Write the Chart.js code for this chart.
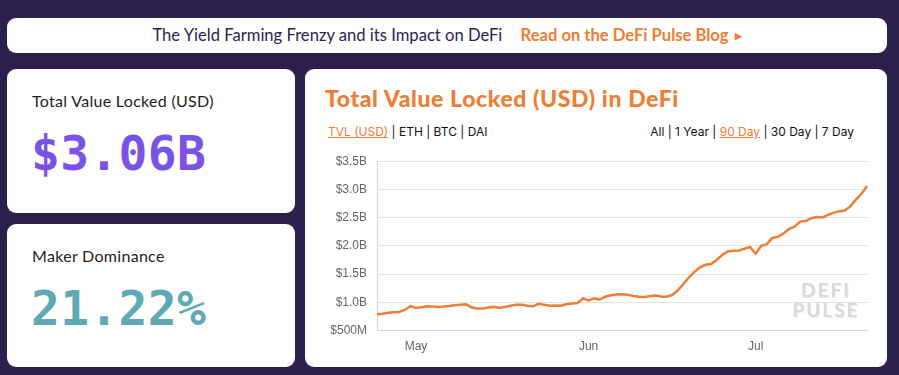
<!DOCTYPE html>
<html>
<head>
<meta charset="utf-8">
<script src="https://cdn.jsdelivr.net/npm/chart.js@4/dist/chart.umd.min.js"></script>
<style>
  html, body { margin: 0; padding: 0; }
  body { width: 899px; height: 375px; background: #2b1f4e; position: relative; overflow: hidden; font-family: "Lato", sans-serif; }
  .box { position: absolute; background: #fff; border-radius: 9px; }
  #banner { left: 7px; top: 18px; width: 880px; height: 35px; text-align: center; line-height: 35px; font-size: 16.6px; color: #2b2350; }
  #banner a { color: #ef7d33; font-weight: bold; margin-left: 14px; text-decoration: none; }
  #banner .arr { font-size: 9px; vertical-align: 2px; margin-left: 6px; }
  #card1 { left: 7px; top: 69px; width: 288px; height: 144px; }
  #card2 { left: 7px; top: 224px; width: 288px; height: 143px; }
  #card3 { left: 305px; top: 69px; width: 582px; height: 298px; }
  .label { position: absolute; left: 25px; top: 22px; font-size: 16px; letter-spacing: 0.3px; color: #1d1d1d; }
  .big { position: absolute; left: 24px; top: 56px; font-family: "DejaVu Sans Mono", monospace; font-weight: bold; font-size: 48px; letter-spacing: 0.3px; }
  #title { position: absolute; left: 20px; top: 15px; font-size: 23px; letter-spacing: 0.6px; font-weight: 900; color: #ef7d33; }
  .links { position: absolute; top: 55px; font-family: "Inter", sans-serif; font-size: 12px; color: #111; }
  .links .on { color: #ef7d33; text-decoration: underline; }
  #chartBox { position: absolute; left: 310px; top: 144px; width: 560px; height: 212px; }
  #mark { position: absolute; left: 788px; top: 280px; width: 76px; text-align: center; font-family: "Lato", sans-serif; font-weight: bold; font-size: 19px; line-height: 20px; letter-spacing: 2px; color: #d9d8de; text-shadow: 1px 1px 0 #ececef; }
</style>
</head>
<body>
<div class="box" id="banner">The Yield Farming Frenzy and its Impact on DeFi <a>Read on the DeFi Pulse Blog<span class="arr">&#9654;</span></a></div>

<div class="box" id="card1">
  <div class="label">Total Value Locked (USD)</div>
  <div class="big" style="color:#7b52e6">$3.06B</div>
</div>
<div class="box" id="card2">
  <div class="label">Maker Dominance</div>
  <div class="big" style="color:#5fa9b5">21.22%</div>
</div>

<div class="box" id="card3">
  <div id="title">Total Value Locked (USD) in DeFi</div>
  <div class="links" style="left:23px"><span class="on">TVL (USD)</span> | ETH | BTC | DAI</div>
  <div class="links" style="right:33px">All | 1 Year | <span class="on">90 Day</span> | 30 Day | 7 Day</div>
</div>

<div id="chartBox"><canvas id="tvl"></canvas></div>
<div id="mark">DEFI<br>PULSE</div>

<script>
// 90 day window, one point per day, 24 Apr .. 21 Jul
var startDay = new Date(2020, 3, 24);
var monthNames = ['Jan', 'Feb', 'Mar', 'Apr', 'May', 'Jun', 'Jul', 'Aug', 'Sep', 'Oct', 'Nov', 'Dec'];

// TVL in billions USD
var tvlValues = [
    0.79, 0.80, 0.815, 0.825, 0.83, 0.865, 0.935, 0.90, 0.915, 0.93,
    0.925, 0.92, 0.925, 0.935, 0.95, 0.96, 0.965, 0.91, 0.89, 0.89,
    0.91, 0.92, 0.90, 0.92, 0.94, 0.96, 0.96, 0.94, 0.93, 0.975,
    0.96, 0.94, 0.945, 0.94, 0.965, 0.98, 0.99, 1.07, 1.035, 1.07,
    1.05, 1.10, 1.125, 1.14, 1.145, 1.135, 1.115, 1.10, 1.095, 1.11,
    1.12, 1.105, 1.10, 1.13, 1.21, 1.32, 1.44, 1.54, 1.62, 1.665,
    1.68, 1.75, 1.84, 1.90, 1.915, 1.92, 1.95, 1.98, 1.86, 2.00,
    2.03, 2.14, 2.16, 2.22, 2.30, 2.34, 2.43, 2.44, 2.49, 2.51,
    2.505, 2.55, 2.59, 2.615, 2.625, 2.70, 2.82, 2.92, 3.06
];

var yTicks = [0.5, 1.0, 1.5, 2.0, 2.5, 3.0, 3.5];

var dayLabels = [];
var monthStart = [];
for (var i = 0; i < tvlValues.length; i++) {
    var d = new Date(startDay.getTime());
    d.setDate(d.getDate() + i);
    dayLabels.push(monthNames[d.getMonth()] + ' ' + d.getDate());
    monthStart.push(d.getDate() === 1);
}

function yLabel(v) {
    "use strict";
    if (v < 1) {
        return '$' + Math.round(v * 1000) + 'M';
    }
    return '$' + v.toFixed(1) + 'B';
}

var gridColor = '#e3e3e3';

new Chart(document.getElementById('tvl').getContext('2d'), {
    type: 'line',
    data: {
        labels: dayLabels,
        datasets: [{
            data: tvlValues,
            borderColor: '#ef7d33',
            borderWidth: 2.5,
            pointRadius: 0,
            tension: 0,
            fill: false
        }]
    },
    options: {
        responsive: true,
        maintainAspectRatio: false,
        animation: false,
        layout: { padding: { top: 4, right: 3 } },
        plugins: { legend: { display: false }, tooltip: { enabled: false } },
        scales: {
            x: {
                grid: {
                    color: function (ctx) { return monthStart[ctx.index] ? gridColor : 'rgba(0,0,0,0)'; },
                    tickLength: 7,
                    drawOnChartArea: true
                },
                border: { color: '#d4d4d4' },
                ticks: {
                    autoSkip: false,
                    maxRotation: 0,
                    color: '#666',
                    font: { family: 'Liberation Sans', size: 12 },
                    padding: 2,
                    callback: function (v, i) { return monthStart[i] ? dayLabels[i].split(' ')[0] : null; }
                }
            },
            y: {
                min: 0.5,
                max: 3.5,
                afterBuildTicks: function (axis) {
                    axis.ticks = yTicks.map(function (v) { return { value: v }; });
                },
                afterFit: function (axis) { axis.width = 67; },
                grid: { color: gridColor, drawTicks: false },
                border: { color: '#d4d4d4' },
                ticks: {
                    color: '#666',
                    padding: 10,
                    font: { family: 'Liberation Sans', size: 12 },
                    callback: function (v) { return yLabel(v); }
                }
            }
        }
    }
});
</script>
</body>
</html>
